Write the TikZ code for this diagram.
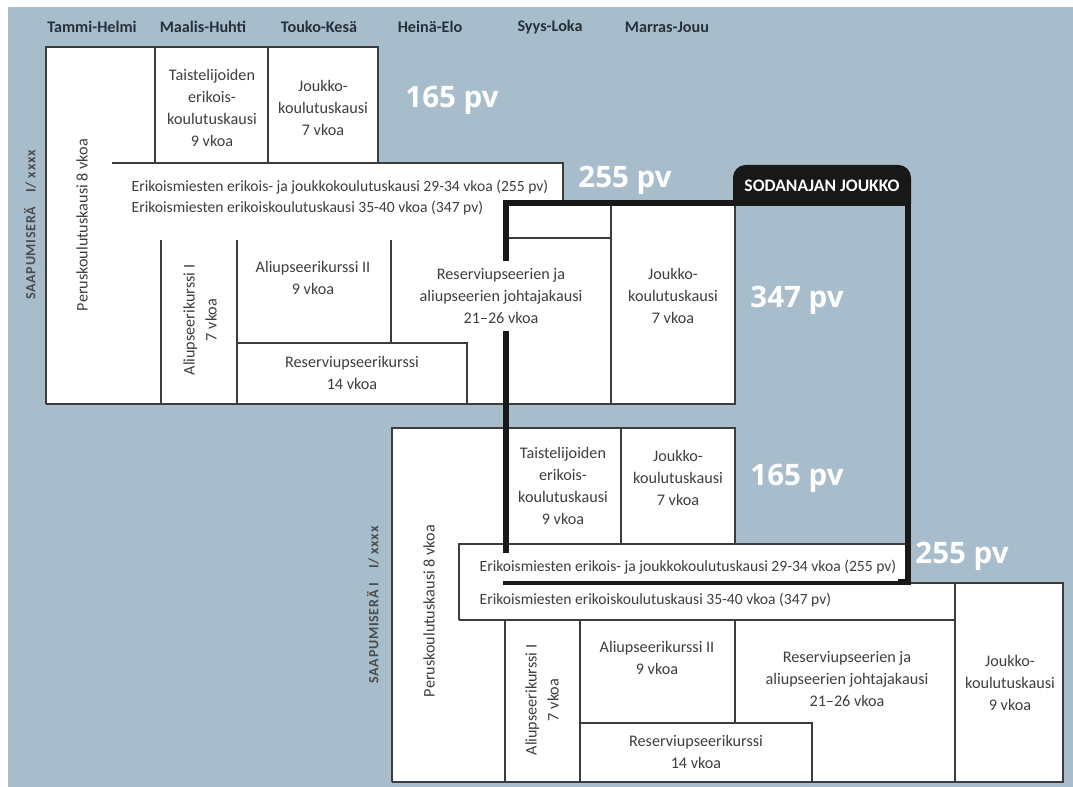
\documentclass[tikz,border=0pt]{standalone}
\usepackage{fontspec}
\newfontfamily\bodyfont{Carlito}
\newfontfamily\bigfont{Open Sans}
\definecolor{bgblue}{RGB}{168,189,203}
\definecolor{linegray}{RGB}{60,60,60}
\definecolor{textgray}{RGB}{62,62,62}
\definecolor{headgray}{RGB}{38,48,58}
\definecolor{framegray}{RGB}{24,24,24}

\begin{document}
\begin{tikzpicture}[x=0.025cm, y=-0.025cm, cell/.style={draw=linegray, line width=0.8pt}, frame/.style={draw=framegray, line width=4.3pt, line join=miter},
  cell text/.style={align=center, text=textgray, inner sep=1pt, font=\bodyfont\fontsize{11.5}{15.6}\selectfont},
  wide text/.style={anchor=west, text=textgray, inner sep=1pt, font=\bodyfont\fontsize{11.1}{12}\selectfont},
  mask/.style={fill=white, inner ysep=5pt},
  days/.style={text=white, font=\bigfont\bfseries\fontsize{21}{21}\selectfont},
  month/.style={text=headgray, font=\bodyfont\bfseries\fontsize{11.5}{12}\selectfont},
  era/.style={rotate=90, text=textgray!90!bgblue, font=\bodyfont\bfseries\addfontfeature{LetterSpace=5}\fontsize{10}{10}\selectfont}]
\useasboundingbox (0,0) rectangle (1073,787);
\fill[bgblue] (8,7) rectangle (1073,787);

\begin{scope}[every node/.style={month}]
\node (m1) at (92,27) {Tammi-Helmi};
\node (m2) at (203,27) {Maalis-Huhti};
\node (m3) at (319,27) {Touko-Kesä};
\node (m4) at (430,27) {Heinä-Elo};
\node (m5) at (550,27) {Syys-Loka};
\node (m6) at (667,27) {Marras-Jouu};
\end{scope}

% saapumiserä I
\fill[white] (46,47) -- (378,47) -- (378,163) -- (563,163) -- (563,203) -- (735,203) -- (735,404) -- (46,404) -- cycle;
\draw[cell] (46,404) -- (46,47) -- (378,47) -- (378,163);
\draw[cell] (112,163) -- (563,163) -- (563,203);
\draw[cell] (46,404) -- (735,404) -- (735,203);
\draw[cell] (155,47) -- (155,163) (268,47) -- (268,163);
\draw[cell] (161,240) -- (161,404) (237,240) -- (237,404) (391,240) -- (391,343);
\draw[cell] (237,343) -- (467,343) -- (467,404);
\draw[cell] (506,238) -- (611,238) (611,203) -- (611,404);

% saapumiserä II
\fill[white] (392,428) -- (735,428) -- (735,544) -- (908,544) -- (908,583) -- (1063,583) -- (1063,782) -- (392,782) -- cycle;
\draw[cell] (392,782) -- (392,428) -- (735,428) -- (735,544);
\draw[cell] (621,428) -- (621,544);
\draw[cell] (459,620) -- (459,544) -- (908,544);
\draw[cell] (908,583) -- (1063,583) -- (1063,782) -- (392,782);
\draw[cell] (459,620) -- (955,620) (955,583) -- (955,782);
\draw[cell] (505,620) -- (505,782) (580,620) -- (580,782) (735,620) -- (735,723);
\draw[cell] (580,723) -- (812,723) -- (812,782);

% sodanajan joukko
\draw[frame] (506,582) -- (506,203) -- (908,203) -- (908,582) -- cycle;
\begin{scope}
\clip (700,150) rectangle (950,204);
\fill[framegray, rounded corners=9pt] (733,165) rectangle (911,240);
\end{scope}
\node[text=white, font=\bodyfont\bfseries\fontsize{12.5}{12}\selectfont] (sj) at (822,186) {SODANAJAN JOUKKO};

\begin{scope}[every node/.style={cell text}]
\node[era] (era1) at (30,225) {SAAPUMISERÄ\quad I/ xxxx};
\node[rotate=90] (pk1) at (82,225) {Peruskoulutuskausi 8 vkoa};
\node (te1) at (212,108) {Taistelijoiden\\erikois-\\koulutuskausi\\9 vkoa};
\node (jk1) at (323,108) {Joukko-\\koulutuskausi\\7 vkoa};
\node[wide text] (em1) at (130,187) {Erikoismiesten erikois- ja joukkokoulutuskausi 29-34 vkoa (255 pv)};
\node[wide text] (ek1) at (130,208) {Erikoismiesten erikoiskoulutuskausi 35-40 vkoa (347 pv)};
\node[rotate=90] (au1) at (200,320) {Aliupseerikurssi I\\7 vkoa};
\node (aii1) at (313,278) {Aliupseerikurssi II\\9 vkoa};
\node (ru1) at (352,373) {Reserviupseerikurssi\\14 vkoa};
\node[mask] (rj1) at (501,296) {Reserviupseerien ja\\aliupseerien  johtajakausi\\21–26 vkoa};
\node (jk2) at (673,296) {Joukko-\\koulutuskausi\\7 vkoa};

\node[era] (era2) at (373,605) {SAAPUMISERÄ I\quad I/ xxxx};
\node[rotate=90] (pk2) at (429,611) {Peruskoulutuskausi 8 vkoa};
\node (te2) at (563,486) {Taistelijoiden\\erikois-\\koulutuskausi\\9 vkoa};
\node (jk3) at (678,478) {Joukko-\\koulutuskausi\\7 vkoa};
\node[wide text, mask] (em2) at (478,567) {Erikoismiesten erikois- ja joukkokoulutuskausi 29-34 vkoa (255 pv)};
\node[wide text] (ek2) at (478,600) {Erikoismiesten erikoiskoulutuskausi 35-40 vkoa (347 pv)};
\node[rotate=90] (au2) at (542,700) {Aliupseerikurssi I\\7 vkoa};
\node (aii2) at (657,658) {Aliupseerikurssi II\\9 vkoa};
\node (ru2) at (696,752) {Reserviupseerikurssi\\14 vkoa};
\node (rj2) at (847,679) {Reserviupseerien ja\\aliupseerien johtajakausi\\21–26 vkoa};
\node (jk4) at (1010,683) {Joukko-\\koulutuskausi\\9 vkoa};
\end{scope}

\begin{scope}[every node/.style={days}]
\node (d165a) at (452,100) {165 pv};
\node (d255a) at (625,180) {255 pv};
\node (d347) at (797,300) {347 pv};
\node (d165b) at (797,478) {165 pv};
\node (d255b) at (962,556) {255 pv};
\end{scope}
\end{tikzpicture}
\end{document}
